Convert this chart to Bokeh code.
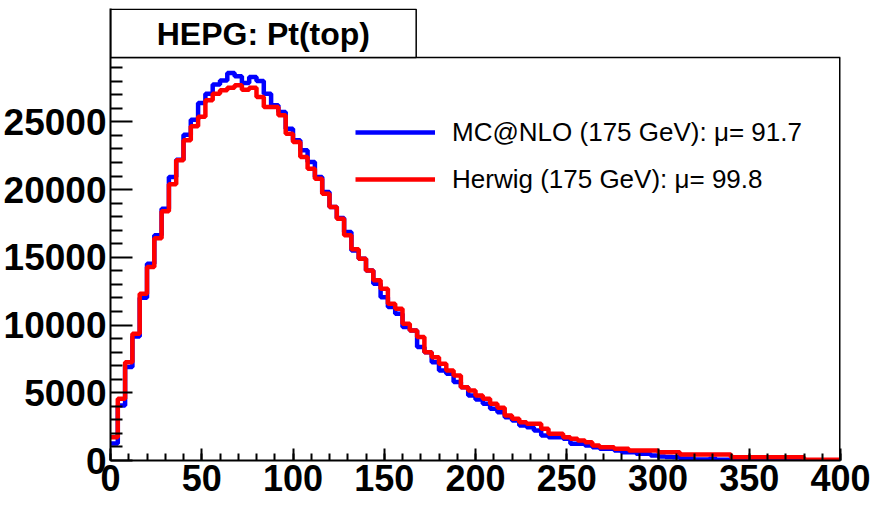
import numpy as np
from bokeh.plotting import figure
from bokeh.models import Range1d, FixedTicker, SingleIntervalTicker, Legend, LegendItem
from bokeh.core.properties import value
from bokeh.embed import file_html
from bokeh.resources import INLINE

# ---- data (4 GeV bins from 0 to 400) ----
bin_width = 4
x_min, x_max = 0, 400
y_frame_max = 29750          # top of the histogram frame

mcatnlo = [
    1250, 4060, 6900, 9160, 12020, 14520, 16620, 18590, 20930, 22210,
    24050, 25150, 26400, 27080, 27750, 28050, 28600, 28360, 27870, 28310,
    28015, 27080, 26220, 25725, 24500, 23635, 22900, 22030, 20925, 19820,
    18710, 17900, 16870, 15510, 14900, 14030, 13050, 12060, 11330, 10830,
    9850, 9600, 8370, 8000, 7260, 6650, 6400, 5790, 5410, 4800,
    4500, 4185, 3816, 3570, 3200, 2954, 2585, 2462, 2216, 1847,
    1723, 1723, 1600, 1231, 1231, 1108, 985, 862, 862, 739,
    616, 616, 492, 492, 370, 300, 250, 246, 150, 150,
    80, 80, 120, 60, 60, 60, 40, 35, 30, 30,
    25, 20, 20, 15, 15, 10, 10, 10, 5, 5,
]

herwig = [
    1720, 4555, 7260, 9355, 12310, 14280, 16400, 18400, 20400, 22160,
    23635, 24680, 25380, 26590, 27080, 27330, 27525, 27700, 27380, 27525,
    26835, 26095, 26095, 25480, 24130, 23510, 22400, 21540, 20800, 19700,
    18710, 17850, 16620, 15600, 14895, 14030, 13300, 12680, 11570, 11200,
    10100, 9600, 9110, 8000, 7630, 7140, 6650, 6280, 5410, 5170,
    4800, 4555, 4185, 3890, 3324, 3078, 2831, 2708, 2708, 2339,
    1970, 1970, 1723, 1600, 1477, 1354, 1108, 985, 985, 862,
    862, 739, 739, 739, 740, 616, 616, 616, 443, 443,
    443, 443, 443, 443, 443, 246, 246, 246, 246, 246,
    246, 246, 246, 246, 246, 60, 60, 60, 60, 60,
]

y_major_ticks = [0, 5000, 10000, 15000, 20000, 25000]
y_minor_ticks = [v for v in range(1000, 30000, 1000) if v % 5000 != 0]

series_labels = ["MC@NLO (175 GeV): \u03bc= 91.7", "Herwig (175 GeV): \u03bc= 99.8"]
series_colors = ["#0000ff", "#ff0000"]
title_text = "HEPG: Pt(top)"

edges = np.arange(x_min, x_max + bin_width, bin_width)

FONT = "Liberation Sans"

# layout constants for the decorative title box (placed above the histogram frame)
px_per_y = 73.86             # data units per pixel vertically
y_top = y_frame_max + 49 * px_per_y
box_top = y_top - 0.8 * px_per_y
box_right = 167.5
title_y = y_frame_max + 24 * px_per_y
title_x = box_right / 2

p = figure(width=877, height=507, output_backend="svg", toolbar_location=None,
           x_range=Range1d(x_min, x_max), y_range=Range1d(0, y_top),
           min_border_left=108, min_border_right=37, min_border_top=8,
           min_border_bottom=47, background_fill_color="white",
           border_fill_color="white")
p.grid.visible = False
p.outline_line_color = None

renderers = []
for vals, col in zip([mcatnlo, herwig], series_colors):
    yv = list(vals) + [vals[-1]]
    r = p.step(x=edges, y=yv, mode="after", line_color=col, line_width=4.5)
    renderers.append(r)

# frame lines (top and right) of the histogram pad
p.segment(x0=[x_min, x_max], y0=[y_frame_max, 0], x1=[x_max, x_max],
          y1=[y_frame_max, y_frame_max], line_color="black",
          line_width=[1.5, 3])

# title box
p.quad(left=[x_min], right=[box_right], bottom=[y_frame_max], top=[box_top],
       fill_color="white", line_color="black", line_width=1.5)
p.text(x=[title_x], y=[title_y], text=[title_text], text_align="center",
       text_baseline="middle", text_font=value(FONT), text_font_style="bold",
       text_font_size="32px", text_color="black")

# x axis
xa = p.xaxis[0]
xa.ticker = SingleIntervalTicker(interval=50, num_minor_ticks=5)
xa.major_tick_in = 12
xa.major_tick_out = 0
xa.minor_tick_in = 7
xa.minor_tick_out = 0
xa.axis_line_width = 2
xa.major_tick_line_width = 2
xa.minor_tick_line_width = 2
xa.major_label_text_font = FONT
xa.major_label_text_font_style = "bold"
xa.major_label_text_font_size = "36px"
xa.major_label_text_color = "black"
xa.major_label_standoff = 4

# y axis
ya = p.yaxis[0]
ya.ticker = FixedTicker(ticks=y_major_ticks, minor_ticks=y_minor_ticks)
ya.major_tick_in = 22
ya.major_tick_out = 0
ya.minor_tick_in = 12
ya.minor_tick_out = 0
ya.axis_line_width = 2
ya.major_tick_line_width = 2
ya.minor_tick_line_width = 2
ya.major_label_text_font = FONT
ya.major_label_text_font_style = "bold"
ya.major_label_text_font_size = "37px"
ya.major_label_text_color = "black"
ya.major_label_standoff = 4

legend = Legend(items=[LegendItem(label=lab, renderers=[r])
                       for lab, r in zip(series_labels, renderers)],
                location=(245, 261), orientation="vertical",
                border_line_color=None, background_fill_alpha=0,
                padding=0, margin=0, spacing=7,
                glyph_width=80, glyph_height=40, label_height=40,
                label_standoff=17, label_text_font=FONT,
                label_text_font_size="26px", label_text_color="black")
p.add_layout(legend)

open("out.html", "w").write(file_html(p, INLINE))
